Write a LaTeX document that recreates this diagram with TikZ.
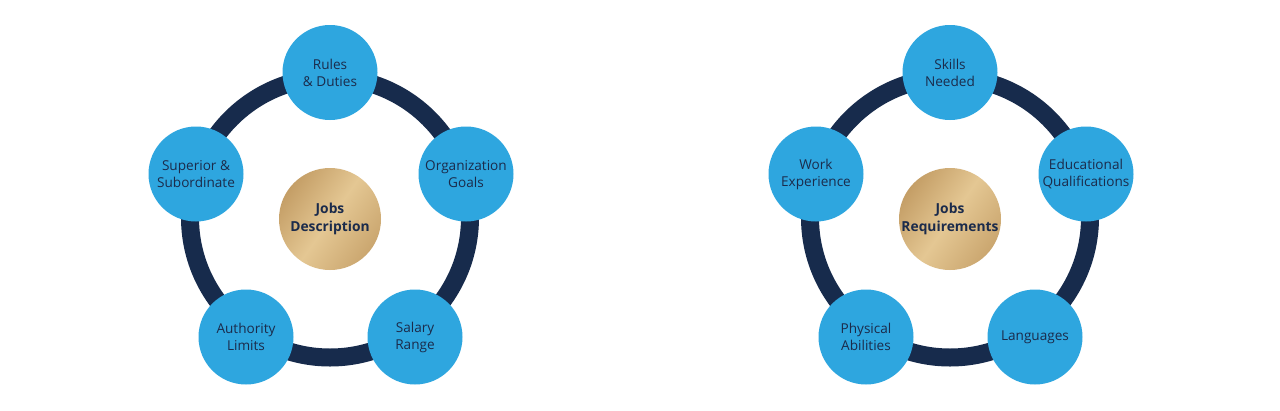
\documentclass[tikz,border=0pt]{standalone}
\usepackage{fontspec}
\setmainfont{Open Sans}
\usetikzlibrary{positioning}

\definecolor{ringnavy}{HTML}{172B4C}
\definecolor{itemblue}{HTML}{2EA6DF}
\definecolor{textnavy}{HTML}{1B2B4B}
\definecolor{golddark}{HTML}{C49E66}
\definecolor{goldlight}{HTML}{E4C793}

\begin{document}
\begin{tikzpicture}[
  x=1pt, y=-1pt,
  font=\fontsize{13.6}{17}\selectfont,
  ring/.style={draw=ringnavy, line width=18pt},
  item/.style={circle, fill=itemblue, minimum size=95pt, inner sep=0pt,
    align=center, text=textnavy},
  core/.style={circle, minimum size=102pt, inner sep=0pt, align=center,
    text=textnavy, font=\fontsize{13.8}{18}\selectfont\bfseries,
    left color=golddark, right color=golddark!80!goldlight, middle color=goldlight,
    shading angle=55}
]
  \useasboundingbox[fill=white] (0,0) rectangle (1280,410);

  % --- Jobs Description (left) ---
  \coordinate (descmid) at (330,217.5);
  \draw[ring] (descmid) circle (140pt);
  \node[core] (desc) at (330,219) {Jobs\\Description};
  \node[item] (rules) at (330,72.5) {Rules\\\& Duties};
  \node[item] (goals) at (466,174) {Organization\\Goals};
  \node[item] (salary) at (415,337) {Salary\\Range};
  \node[item] (authority) at (246,337) {Authority\\Limits};
  \node[item] (superior) at (196,174) {Superior \&\\Subordinate};

  % --- Jobs Requirements (right) ---
  \coordinate (reqmid) at (950,217.5);
  \draw[ring] (reqmid) circle (140pt);
  \node[core] (req) at (950,219) {Jobs\\Requirements};
  \node[item] (skills) at (950,72.5) {Skills\\Needed};
  \node[item] (education) at (1086,174) {Educational\\Qualifications};
  \node[item] (languages) at (1035,337) {Languages};
  \node[item] (physical) at (866,337) {Physical\\Abilities};
  \node[item] (experience) at (816,174) {Work\\Experience};

\end{tikzpicture}
\end{document}
